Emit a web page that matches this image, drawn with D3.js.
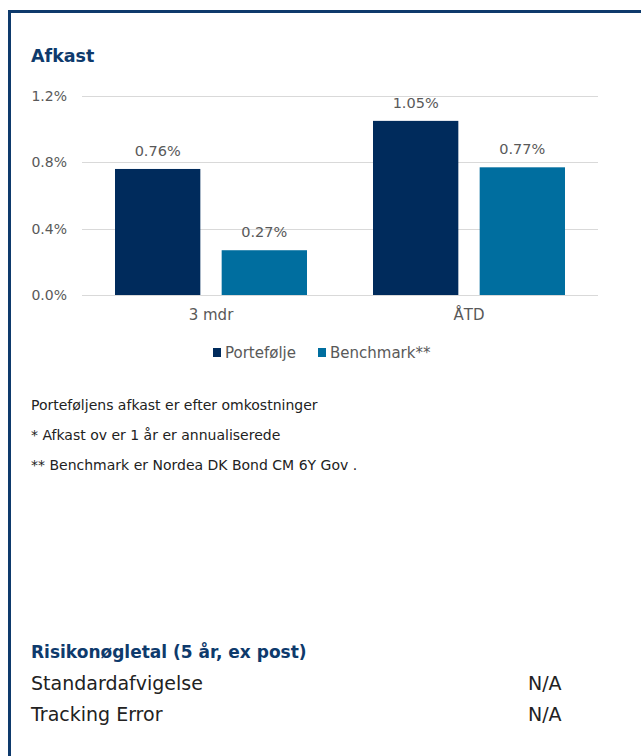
<!DOCTYPE html>
<html>
<head>
<meta charset="utf-8">
<script src="https://cdn.jsdelivr.net/npm/d3@7"></script>
<style>
  body { margin: 0; background: #fff; }
  svg { display: block; font-family: "DejaVu Sans", sans-serif; }
</style>
</head>
<body>
<div id="chart"></div>
<script>
// data
const categories = ["3 mdr", "ÅTD"];
const seriesNames = ["Portefølje", "Benchmark**"];
const portefolje = [0.76, 1.05];
const benchmark = [0.27, 0.77];
const yTicks = [0.0, 0.4, 0.8, 1.2];
const notes = [
  "Porteføljens afkast er efter omkostninger",
  "* Afkast ov er 1 år er annualiserede",
  "** Benchmark er Nordea DK Bond CM 6Y Gov ."
];
const riskRows = ["Standardafvigelse", "Tracking Error"];
const riskValues = ["N/A", "N/A"];

const colors = ["#002b5c", "#006e9f"];
const navy = "#0e3a6c";
const gray = "#595959";
const font = "'DejaVu Sans', sans-serif";

const width = 641, height = 756;
const svg = d3.select("#chart").append("svg")
  .attr("width", width)
  .attr("height", height);

// frame
svg.append("path")
  .attr("d", "M9.5," + height + " V11.5 H" + width)
  .attr("fill", "none")
  .attr("stroke", navy)
  .attr("stroke-width", 3);

svg.append("text")
  .attr("x", 31).attr("y", 62)
  .attr("fill", navy)
  .attr("font-size", 17.5).attr("font-weight", "bold")
  .text("Afkast");

/* scales */
const x0 = d3.scaleBand().domain(categories).range([82, 598]);
const x1 = d3.scaleBand().domain(seriesNames).range([33, x0.bandwidth() - 33]).paddingInner(0.2);
const y = d3.scaleLinear().domain([0, 1.2]).range([295, 96]);

// gridlines
svg.append("g")
  .selectAll("line")
  .data(yTicks)
  .enter()
  .append("line")
    .attr("x1", 82).attr("x2", 598)
    .attr("y1", d => Math.round(y(d)) + 0.5)
    .attr("y2", d => Math.round(y(d)) + 0.5)
    .attr("stroke", "#d9d9d9").attr("stroke-width", 1);

// y tick labels
const yAxis = d3.axisLeft(y).tickValues(yTicks).tickSize(0).tickPadding(0)
  .tickFormat(d => d.toFixed(1) + "%");
svg.append("g")
  .attr("transform", "translate(67,0)")
  .call(yAxis)
  .call(g => g.select(".domain").remove())
  .call(g => g.selectAll("text")
    .attr("fill", gray).attr("font-size", 14)
    .attr("font-family", font));

// x axis labels
const xAxis = d3.axisBottom(x0).tickSize(0).tickPadding(0);
svg.append("g")
  .attr("transform", "translate(0,309)")
  .call(xAxis)
  .call(g => g.select(".domain").remove())
  .call(g => g.selectAll("text")
    .attr("fill", gray).attr("font-size", 15)
    .attr("font-family", font));

// bars
const rows = categories.map((c, i) => ({
  cat: c,
  vals: [
    { s: seriesNames[0], v: portefolje[i], c: colors[0] },
    { s: seriesNames[1], v: benchmark[i], c: colors[1] }
  ]
}));

const groups = svg.selectAll(".grp")
  .data(rows)
  .enter()
  .append("g")
    .attr("class", "grp")
    .attr("transform", d => "translate(" + x0(d.cat) + ",0)");

groups.selectAll("rect")
  .data(d => d.vals)
  .enter()
  .append("rect")
    .attr("x", d => x1(d.s))
    .attr("y", d => y(d.v))
    .attr("width", x1.bandwidth())
    .attr("height", d => y(0) - y(d.v))
    .attr("fill", d => d.c);

groups.selectAll(".lbl")
  .data(d => d.vals)
  .enter()
  .append("text")
    .attr("class", "lbl")
    .attr("x", d => x1(d.s) + x1.bandwidth() / 2)
    .attr("y", d => y(d.v) - 13)
    .attr("text-anchor", "middle")
    .attr("fill", gray).attr("font-size", 14.5)
    .text(d => d.v.toFixed(2) + "%");

// legend
const legend = svg.append("g").attr("transform", "translate(213,348)");
const legX = [0, 105];
seriesNames.forEach((s, i) => {
  legend.append("rect")
    .attr("x", legX[i]).attr("y", 0)
    .attr("width", 8).attr("height", 9)
    .attr("fill", colors[i]);
  legend.append("text")
    .attr("x", legX[i] + 12).attr("y", 10)
    .attr("fill", gray).attr("font-size", 15)
    .text(s);
});

// notes
svg.selectAll(".note")
  .data(notes)
  .enter()
  .append("text")
    .attr("class", "note")
    .attr("x", 31)
    .attr("y", (d, i) => 410 + i * 30)
    .attr("fill", "#222").attr("font-size", 14)
    .text(d => d);

// risk block
svg.append("text")
  .attr("x", 31).attr("y", 658)
  .attr("fill", navy)
  .attr("font-size", 17).attr("font-weight", "bold")
  .text("Risikonøgletal (5 år, ex post)");

riskRows.forEach((r, i) => {
  svg.append("text")
    .attr("x", 31).attr("y", 690 + i * 31)
    .attr("fill", "#222").attr("font-size", 19)
    .text(r);
  svg.append("text")
    .attr("x", 528).attr("y", 690 + i * 31)
    .attr("fill", "#222").attr("font-size", 19)
    .text(riskValues[i]);
});
</script>
</body>
</html>
